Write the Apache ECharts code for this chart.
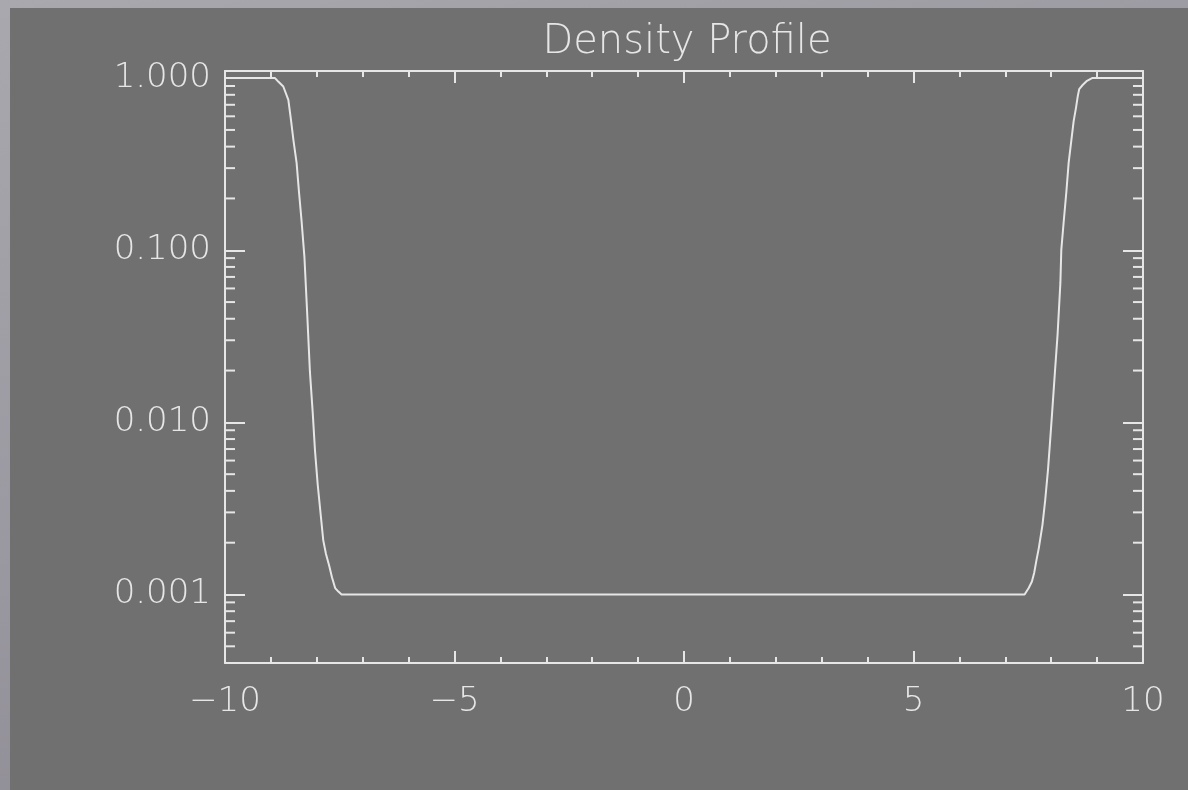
<!DOCTYPE html>
<html>
<head>
<meta charset="utf-8">
<title>Density Profile</title>
<script src="https://cdn.jsdelivr.net/npm/echarts@6/dist/echarts.min.js"></script>
<style>
  html, body { margin: 0; padding: 0; }
  #frame {
    position: relative; width: 1188px; height: 790px; overflow: hidden;
    background: linear-gradient(160deg, #a9a8ae 0%, #9a98a0 45%, #85828a 100%);
  }
  #panel {
    position: absolute; left: 10px; top: 8px; right: 0; bottom: 0;
    background: #707070;
  }
  #chart { position: absolute; left: 0; top: 0; width: 1188px; height: 790px; }
</style>
</head>
<body>
<div id="frame"><div id="panel"></div><div id="chart"></div></div>
<script>
// Position along the slab
const xValues = [
  -10, -8.91, -8.84, -8.73, -8.62, -8.56, -8.51, -8.44, -8.39, -8.33, -8.27,
  -8.21, -8.15, -8.09, -8.04, -7.98, -7.91, -7.86, -7.80, -7.73, -7.67, -7.60,
  -7.53, -7.46,
  7.42, 7.51, 7.58, 7.63, 7.68, 7.73, 7.81, 7.87, 7.93, 7.97, 8.02, 8.08,
  8.14, 8.20, 8.22, 8.27, 8.33, 8.38, 8.44, 8.49, 8.54, 8.58, 8.61, 8.69,
  8.78, 8.89, 10
];
// Density at each position
const density = [
  1, 1, 0.955, 0.894, 0.748, 0.565, 0.438, 0.322, 0.221, 0.146, 0.0916,
  0.0433, 0.0197, 0.0115, 0.0069, 0.00434, 0.00282, 0.00207, 0.00172, 0.00147, 0.00126, 0.00109,
  0.00104, 0.001,
  0.001, 0.00109, 0.00119, 0.00134, 0.00159, 0.00186, 0.00254, 0.00355, 0.0053, 0.0074, 0.01135, 0.0194,
  0.0327, 0.0646, 0.1005, 0.144, 0.218, 0.322, 0.438, 0.565, 0.672, 0.789, 0.863, 0.915,
  0.965, 1, 1
];
// Log-axis minor tick values (2..9 x 10^n inside the range)
const yMinorTicks = [
  0.0005, 0.0006, 0.0007, 0.0008, 0.0009,
  0.002, 0.003, 0.004, 0.005, 0.006, 0.007, 0.008, 0.009,
  0.02, 0.03, 0.04, 0.05, 0.06, 0.07, 0.08, 0.09,
  0.2, 0.3, 0.4, 0.5, 0.6, 0.7, 0.8, 0.9
];
const xRange = [-10, 10];
const yRange = [0.0004, 1.1];
const titleText = 'Density Profile';

const INK = '#e6e6e6';
const FONT = '"DejaVu Sans", sans-serif';

const xAxisBase = {
  type: 'value', min: xRange[0], max: xRange[1], interval: 5,
  axisLine: { show: true, onZero: false, lineStyle: { color: INK, width: 2 } },
  axisTick: { show: true, inside: true, length: 12, lineStyle: { color: INK, width: 2 } },
  minorTick: { show: true, splitNumber: 5, length: 6, lineStyle: { color: INK, width: 2 } },
  splitLine: { show: false }, minorSplitLine: { show: false }
};
const yAxisBase = {
  type: 'log', logBase: 10, min: yRange[0], max: yRange[1],
  axisLine: { show: true, onZero: false, lineStyle: { color: INK, width: 2 } },
  axisTick: { show: true, inside: true, length: 20, lineStyle: { color: INK, width: 2 } },
  splitLine: { show: false }
};

const chart = echarts.init(document.getElementById('chart'), null, { renderer: 'canvas' });
chart.setOption({
  backgroundColor: 'transparent',
  animation: false,
  title: {
    text: titleText, left: 682, top: 18, textAlign: 'center',
    textStyle: { color: INK, fontFamily: FONT, fontSize: 40, fontWeight: 200 }
  },
  grid: { left: 225, right: 45, top: 71, bottom: 127, containLabel: false },
  xAxis: [
    Object.assign({}, xAxisBase, {
      position: 'bottom',
      axisLabel: {
        show: true, margin: 22, color: INK, fontFamily: FONT, fontSize: 34, fontWeight: 200,
        formatter: v => (v < 0 ? '\u2212' + Math.abs(v) : String(v))
      }
    }),
    Object.assign({}, xAxisBase, { position: 'top', axisLabel: { show: false } })
  ],
  yAxis: [
    Object.assign({}, yAxisBase, {
      position: 'left',
      axisLabel: {
        show: true, margin: 14, color: INK, fontFamily: FONT, fontSize: 34, fontWeight: 200,
        showMinLabel: false, showMaxLabel: false,
        formatter: v => v.toFixed(3)
      }
    }),
    Object.assign({}, yAxisBase, { position: 'right', axisLabel: { show: false } })
  ],
  series: [
    {
      type: 'custom', xAxisIndex: 0, yAxisIndex: 0, silent: true, clip: false,
      data: yMinorTicks.map(v => [v]),
      renderItem: (params, api) => {
        const v = api.value(0);
        const l = api.coord([xRange[0], v]);
        const r = api.coord([xRange[1], v]);
        const style = { stroke: INK, lineWidth: 2 };
        return {
          type: 'group', children: [
            { type: 'line', shape: { x1: l[0], y1: l[1], x2: l[0] + 10, y2: l[1] }, style },
            { type: 'line', shape: { x1: r[0], y1: r[1], x2: r[0] - 10, y2: r[1] }, style }
          ]
        };
      }
    },
    {
      type: 'line', xAxisIndex: 0, yAxisIndex: 0,
      data: xValues.map((x, i) => [x, density[i]]),
      showSymbol: false, smooth: false,
      lineStyle: { color: INK, width: 2 }
    }
  ]
});
</script>
</body>
</html>
